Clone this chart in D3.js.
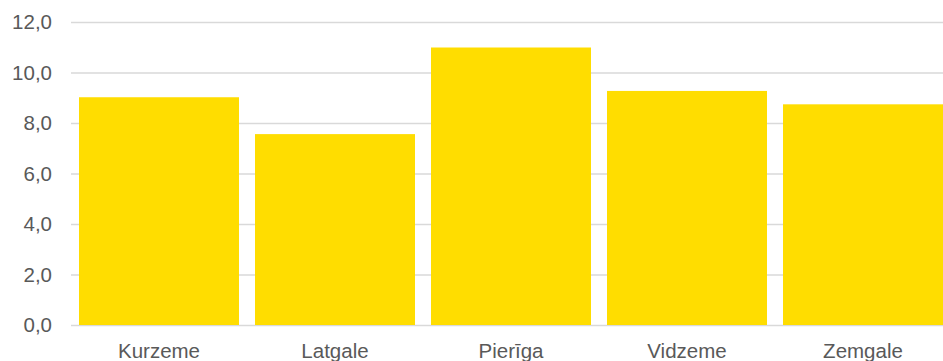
<!DOCTYPE html>
<html>
<head>
<meta charset="utf-8">
<script src="https://cdn.jsdelivr.net/npm/d3@7"></script>
<style>
  body { margin: 0; background: #fff; }
  svg text { font-family: "Liberation Sans", Arial, sans-serif; fill: #595959; }
</style>
</head>
<body>
<svg width="943" height="361"></svg>
<script>
// reģioni un vērtības
var regions = ["Kurzeme", "Latgale", "Pierīga", "Vidzeme", "Zemgale"];
var values = [9.02, 7.56, 10.99, 9.27, 8.74];
var yTicks = [0, 2, 4, 6, 8, 10, 12];

var svg = d3.select("svg");
// "top" ir rezervēts window objektā, tāpēc citi nosaukumi
var plotLeft = 71, plotRight = 951, plotTop = 22, plotBottom = 325;

var x = d3.scaleBand()
    .domain(regions)
    .range([plotLeft, plotRight])
    .paddingInner(16 / 176)
    .paddingOuter(8 / 176);

var y = d3.scaleLinear()
    .domain([0, 12])
    .range([plotBottom, plotTop]);

// režģa līnijas
svg.append("g")
    .selectAll("line")
    .data(yTicks)
    .enter().append("line")
    .attr("x1", plotLeft)
    .attr("x2", 943)
    .attr("y1", function(d) { return y(d) + 0.5; })
    .attr("y2", function(d) { return y(d) + 0.5; })
    .attr("stroke", "#d9d9d9")
    .attr("stroke-width", 1.3);

// ass etiķetes
svg.append("g")
    .selectAll("text")
    .data(yTicks)
    .enter().append("text")
    .attr("x", 52)
    .attr("y", function(d) { return y(d); })
    .attr("dy", "0.35em")
    .attr("text-anchor", "end")
    .style("font-size", "20.5px")
    .text(function(d) { return d.toFixed(1).replace(".", ","); });

// stabiņi
svg.append("g")
    .selectAll("rect")
    .data(values)
    .enter().append("rect")
    .attr("x", function(d, i) { return x(regions[i]); })
    .attr("width", x.bandwidth())
    .attr("y", function(d) { return y(d); })
    .attr("height", function(d) { return y(0) - y(d); })
    .attr("fill", "#ffdd00");

// kategorijas
svg.append("g")
    .selectAll("text")
    .data(regions)
    .enter().append("text")
    .attr("x", function(d) { return x(d) + x.bandwidth() / 2; })
    .attr("y", 358)
    .attr("text-anchor", "middle")
    .style("font-size", "20.5px")
    .text(function(d) { return d; });
</script>
</body>
</html>
